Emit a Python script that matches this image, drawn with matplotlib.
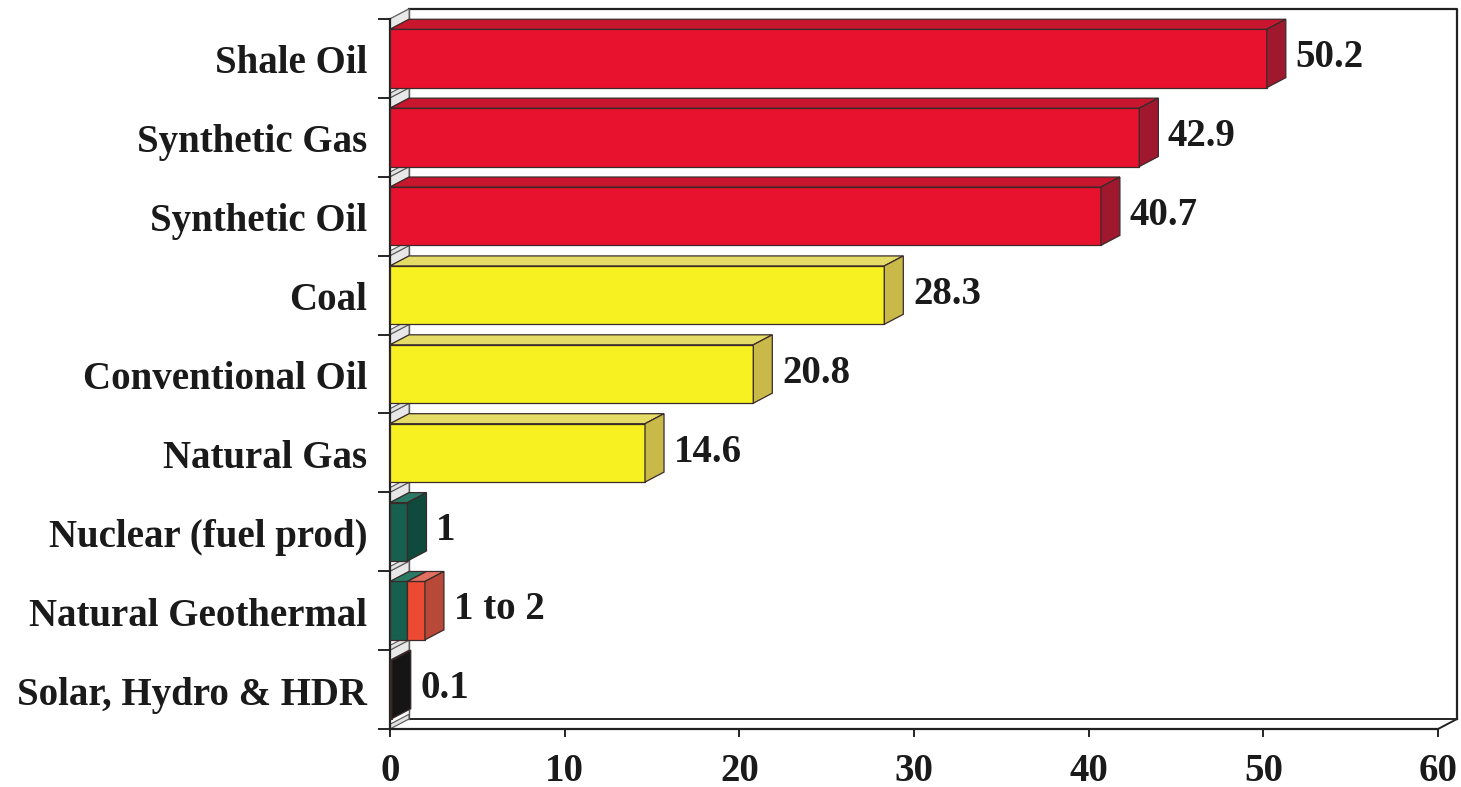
import matplotlib.pyplot as plt
import numpy as np

labels = ['Shale Oil', 'Synthetic Gas', 'Synthetic Oil', 'Coal', 'Conventional Oil',
          'Natural Gas', 'Nuclear (fuel prod)', 'Natural Geothermal', 'Solar, Hydro & HDR']
values = [50.2, 42.9, 40.7, 28.3, 20.8, 14.6, 1, 1, 0.1]
value_text = ['50.2', '42.9', '40.7', '28.3', '20.8', '14.6', '1', '1 to 2', '0.1']
geo_extra = 1.0  # geothermal range 1 to 2
xticks = [0, 10, 20, 30, 40, 50, 60]

front_cols = ['#e8122e'] * 3 + ['#f7f122'] * 3 + ['#17604f'] * 2 + ['#2a2a2a']
side_cols = ['#a0182e'] * 3 + ['#c9b948'] * 3 + ['#0f4a3c'] * 2 + ['#151515']
top_cols = ['#c8162e'] * 3 + ['#e4dc66'] * 3 + ['#2a7a66'] * 2 + ['#666666']
geo_front, geo_side, geo_top = '#ec4a32', '#b84838', '#e07060'

W, H = 1461, 787
fig = plt.figure(figsize=(W / 100, H / 100), dpi=100)
x0, x1, ytop, ybot = 390, 1438, 19, 729
ax = fig.add_axes([x0 / W, (H - ybot) / H, (x1 - x0) / W, (ybot - ytop) / H])

n = len(labels)
ypos = np.arange(n)[::-1]  # top category at highest y
ax.set_xlim(0, 60)
ax.set_ylim(-0.5, n - 0.5)

# 3d depth offset, in data units
dx = 19 * 60 / (x1 - x0)
dy = 10 * n / (ybot - ytop)
bh = 0.74
font = 'Liberation Serif'
ink = '#1a1a1a'


def box(left, val, y, fc, sc, tc):
    yb, yt = y - bh / 2, y + bh / 2
    r = left + val
    ax.barh(y, val, left=left, height=bh, color=fc, edgecolor='#3a2a2a', lw=0.9, zorder=3)
    ax.fill([left, r, r + dx, left + dx], [yt, yt, yt + dy, yt + dy],
            color=tc, ec='#3a2a2a', lw=0.9, zorder=3, clip_on=False)
    ax.fill([r, r, r + dx, r + dx], [yb, yt, yt + dy, yb + dy],
            color=sc, ec='#3a2a2a', lw=0.9, zorder=3, clip_on=False)


# back wall / floor frame
ax.plot([dx, 60 + dx, 60 + dx], [n - 0.5 + dy, n - 0.5 + dy, -0.5 + dy],
        color='#222222', lw=1.6, clip_on=False, zorder=1)
ax.plot([dx, 60 + dx], [-0.5 + dy, -0.5 + dy], color='#222222', lw=1.4, clip_on=False, zorder=1)
ax.plot([dx, dx], [-0.5 + dy, n - 0.5 + dy], color='#555555', lw=1.0, clip_on=False, zorder=1)
ax.plot([60, 60 + dx], [-0.5, -0.5 + dy], color='#222222', lw=1.4, clip_on=False, zorder=1)
ax.plot([0, dx], [n - 0.5, n - 0.5 + dy], color='#444444', lw=1.0, clip_on=False, zorder=1)

# left wall pieces between bars
for k in range(n):
    lo = k - 0.5
    ax.fill([0, dx, dx, 0], [lo, lo + dy, lo + dy + 0.06, lo + 0.06],
            color='#e2e2e2', ec='#555555', lw=0.8, zorder=2, clip_on=False)
    top = k + bh / 2
    ax.fill([0, dx, dx, 0], [top, top + dy, k + 0.5 + dy, k + 0.5],
            color='#e8e8e8', ec='#666666', lw=0.7, zorder=2, clip_on=False)

for i in range(n):
    box(0, values[i], ypos[i], front_cols[i], side_cols[i], top_cols[i])
    if labels[i] == 'Natural Geothermal':
        box(values[i], geo_extra, ypos[i], geo_front, geo_side, geo_top)
        end = values[i] + geo_extra
    else:
        end = values[i]
    ax.text(end + dx + 0.55, ypos[i] - 0.11, value_text[i], ha='left', va='baseline',
            fontsize=28, fontweight='bold', family=font, color=ink)

ax.set_yticks([k - 0.5 for k in range(n + 1)])
ax.set_yticklabels([])
for i in range(n):
    ax.text(-1.3, ypos[i] - 0.19, labels[i], ha='right', va='baseline', fontsize=28,
            fontweight='bold', family=font, color=ink)

ax.set_xticks(xticks)
ax.set_xticklabels([str(t) for t in xticks], fontsize=28, fontweight='bold', family=font,
                   color=ink)
ax.tick_params(axis='x', direction='out', length=6, width=1.2, pad=11)
ax.tick_params(axis='y', direction='out', length=9, width=1.2)
for s in ['top', 'right']:
    ax.spines[s].set_visible(False)
for s in ['left', 'bottom']:
    ax.spines[s].set_linewidth(1.6)
    ax.spines[s].set_color('#222222')

fig.savefig('out.png', dpi=100)
